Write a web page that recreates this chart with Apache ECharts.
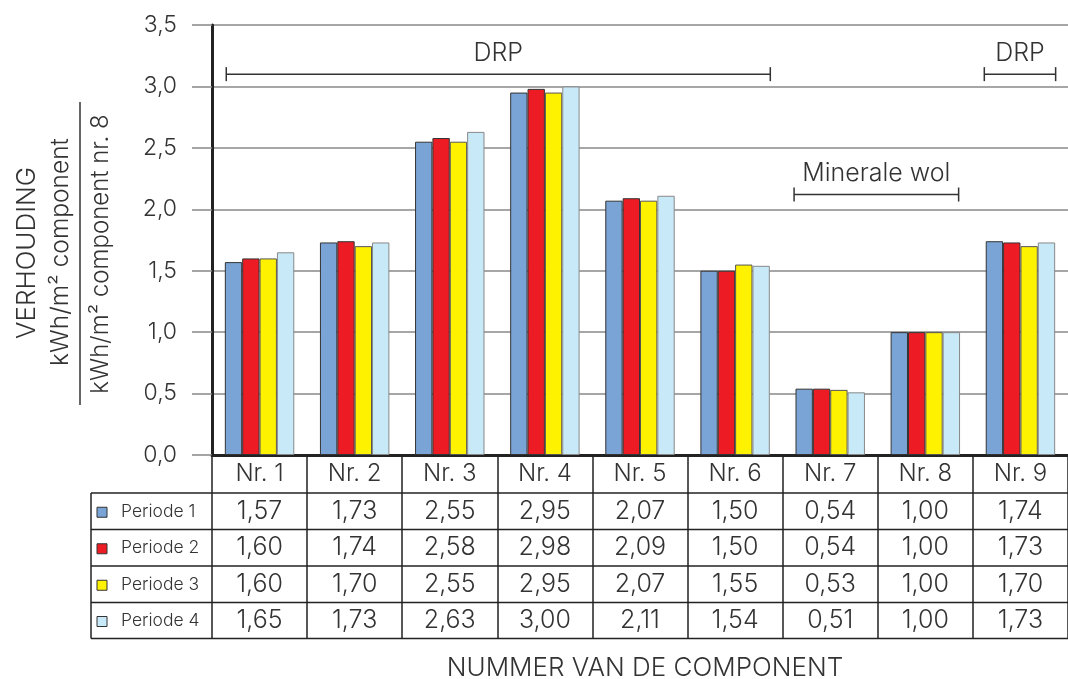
<!DOCTYPE html>
<html><head><meta charset="utf-8">
<script src="https://cdn.jsdelivr.net/npm/echarts@6/dist/echarts.min.js"></script>
<style>html,body{margin:0;padding:0;background:#fff}#c{width:1068px;height:679px}</style>
</head><body><div id="c"></div>
<script>
const categories = ['Nr. 1','Nr. 2','Nr. 3','Nr. 4','Nr. 5','Nr. 6','Nr. 7','Nr. 8','Nr. 9'];
const seriesNames = ['Periode 1','Periode 2','Periode 3','Periode 4'];
const periode1 = [1.57,1.73,2.55,2.95,2.07,1.50,0.54,1.00,1.74];
const periode2 = [1.60,1.74,2.58,2.98,2.09,1.50,0.54,1.00,1.73];
const periode3 = [1.60,1.70,2.55,2.95,2.07,1.55,0.53,1.00,1.70];
const periode4 = [1.65,1.73,2.63,3.00,2.11,1.54,0.51,1.00,1.73];
const yTicks = {min:0, max:3.5, interval:0.5};
const bracketLabels = ['DRP','Minerale wol','DRP'];
const bracketSpans = [[0.15,5.87,3.10],[6.12,7.85,2.12],[8.12,8.87,3.10]];

const allSeries = [periode1,periode2,periode3,periode4];
const colors = ['#7ba4d6','#ed1c24','#fff200','#c8e9f8'];
const borders = ['#333','#333','#555','#888'];
const FONT = 'Inter';
const FW = 300;
const TXT = '#333';

const chart = echarts.init(document.getElementById('c'));
const fmt = v => v.toFixed(2).replace('.', ',');

const option = {
  animation:false,
  grid:{left:212, top:25, bottom:224, width:862},
  xAxis:[{
    type:'category', data:categories,
    axisLine:{lineStyle:{color:'#222', width:3}},
    axisTick:{show:true, length:183, interval:0, lineStyle:{color:'#222', width:1.5}},
    axisLabel:{fontFamily:FONT, fontWeight:FW, fontSize:24, color:TXT, margin:7},
    splitLine:{show:false}
  },{
    type:'value', min:0, max:9, show:false
  }],
  yAxis:{
    type:'value', min:yTicks.min, max:yTicks.max, interval:yTicks.interval,
    axisLine:{show:true, lineStyle:{color:'#222', width:3}},
    axisTick:{show:true, length:20, lineStyle:{color:'#888', width:1.5}},
    axisLabel:{fontFamily:FONT, fontWeight:FW, fontSize:23, color:TXT, margin:35,
      formatter:v=>v.toFixed(1).replace('.', ',')},
    splitLine:{lineStyle:{color:'#888', width:1.5}}
  },
  series: allSeries.map((d,i)=>({
    type:'bar', name:seriesNames[i], data:d, silent:true,
    barGap:'0%', barCategoryGap:'27%',
    itemStyle:{color:colors[i], borderColor:borders[i], borderWidth:1}
  })).concat([{
    type:'custom', xAxisIndex:1, yAxisIndex:0, silent:true, z:5,
    data: bracketSpans,
    renderItem:(params, api)=>{
      const a = api.coord([api.value(0), api.value(2)]);
      const b = api.coord([api.value(1), api.value(2)]);
      const st = {stroke:'#333', lineWidth:1.5};
      return {type:'group', children:[
        {type:'line', shape:{x1:a[0],y1:a[1],x2:b[0],y2:b[1]}, style:st},
        {type:'line', shape:{x1:a[0],y1:a[1]-7,x2:a[0],y2:a[1]+7}, style:st},
        {type:'line', shape:{x1:b[0],y1:b[1]-7,x2:b[0],y2:b[1]+7}, style:st},
        {type:'text', x:(a[0]+b[0])/2, y:a[1]-21, style:{text:bracketLabels[params.dataIndex],
          fontFamily:FONT, fontWeight:FW, fontSize:25, fill:TXT, align:'center', verticalAlign:'middle'}}
      ]};
    }
  }])
};
chart.setOption(option);

// table built from the arrays
const rowLines = [493, 529.5, 566, 602.5, 638.5];
const g = [];
rowLines.forEach(y=>g.push({type:'line', shape:{x1:91,y1:y,x2:1068,y2:y}, style:{stroke:'#222', lineWidth:1.5}}));
g.push({type:'line', shape:{x1:91,y1:493,x2:91,y2:638.5}, style:{stroke:'#222', lineWidth:1.5}});
allSeries.forEach((d,r)=>{
  const cy = (rowLines[r]+rowLines[r+1])/2;
  g.push({type:'rect', shape:{x:97,y:cy-4,width:10,height:10}, style:{fill:colors[r], stroke:'#333', lineWidth:1}});
  g.push({type:'text', x:121, y:cy, style:{text:seriesNames[r], fontFamily:FONT, fontWeight:FW, fontSize:17.5, fill:TXT, verticalAlign:'middle'}});
  d.forEach((v,i)=>{
    const x = chart.convertToPixel({xAxisIndex:0}, i);
    g.push({type:'text', x:x, y:cy, style:{text:fmt(v), fontFamily:FONT, fontWeight:FW, fontSize:25, fill:TXT, align:'center', verticalAlign:'middle'}});
  });
});
// axis titles
g.push({type:'text', x:27, y:253, rotation:Math.PI/2, style:{text:'VERHOUDING', fontFamily:FONT, fontWeight:FW, fontSize:26, fill:TXT, align:'center', verticalAlign:'middle'}});
g.push({type:'text', x:61, y:252, rotation:Math.PI/2, style:{text:'kWh/m² component', fontFamily:FONT, fontWeight:FW, fontSize:24.5, fill:TXT, align:'center', verticalAlign:'middle'}});
g.push({type:'line', shape:{x1:80,y1:102,x2:80,y2:405}, style:{stroke:'#333', lineWidth:1.5}});
g.push({type:'text', x:101, y:254, rotation:Math.PI/2, style:{text:'kWh/m² component nr. 8', fontFamily:FONT, fontWeight:FW, fontSize:24, fill:TXT, align:'center', verticalAlign:'middle'}});
g.push({type:'text', x:645, y:668, style:{text:'NUMMER VAN DE COMPONENT', fontFamily:FONT, fontWeight:FW, fontSize:26, fill:TXT, align:'center', verticalAlign:'middle'}});
chart.setOption({graphic:g});
</script></body></html>
